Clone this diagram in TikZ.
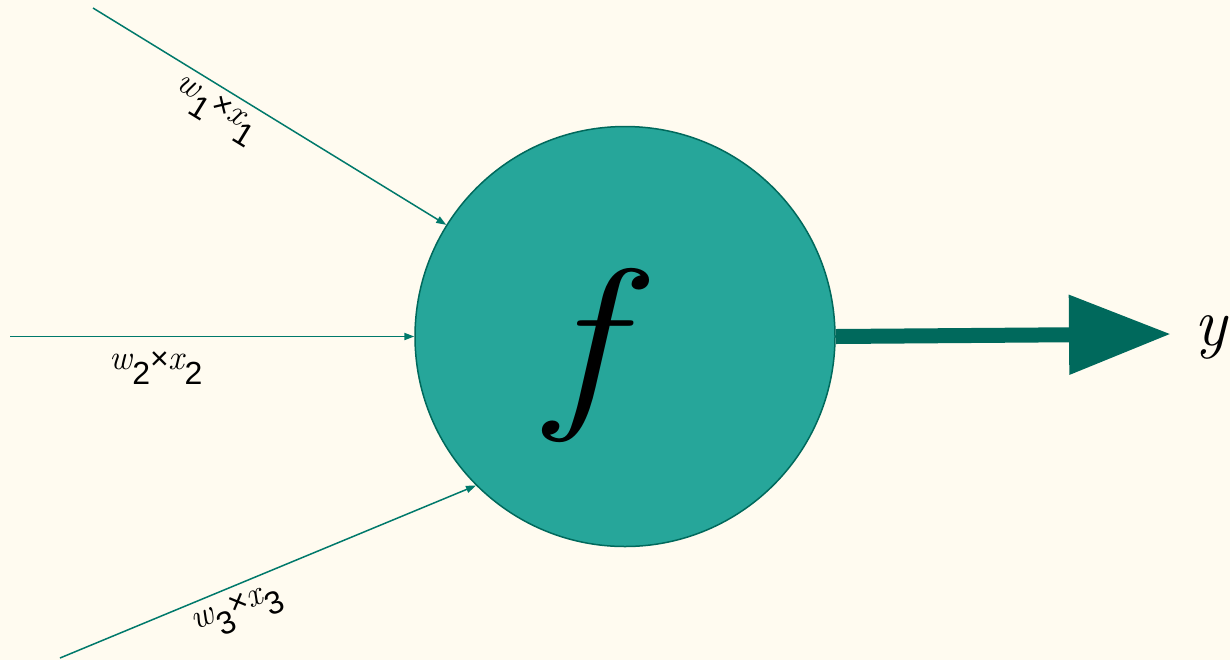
\documentclass[tikz,border=0pt]{standalone}
\usepackage{fontspec}
\newfontfamily\arialfam{Liberation Sans}
\usetikzlibrary{arrows.meta}
\definecolor{bgcol}{HTML}{FFFBF0}
\definecolor{tealfill}{HTML}{26A69A}
\definecolor{tealdark}{HTML}{00695C}
\definecolor{tealline}{HTML}{00796B}
\newcommand\wxlabel[1]{{\fontsize{17.5}{17.5}\selectfont\itshape w}\raisebox{-7.5pt}{\arialfam #1}{\arialfam ×}{\fontsize{17.5}{17.5}\selectfont\itshape x}\raisebox{-7.5pt}{\arialfam #1}}
\tikzset{
  neuron/.style={circle, draw=tealdark, fill=tealfill, line width=0.75pt, minimum size=210pt, inner sep=0pt},
  inline/.style={draw=tealline, line width=0.75pt, -{Triangle[length=5pt,width=3.6pt]}},
  outarrow/.style={draw=tealdark, line width=7.5pt, -{Triangle[length=51pt,width=38pt]}},
  wlab/.style={font=\fontsize{16}{16}\selectfont, inner sep=0pt},
}
\begin{document}
\begin{tikzpicture}[x=0.5pt,y=-0.5pt]
\fill[bgcol] (0,0) rectangle (1230,660);
\useasboundingbox (0,0) rectangle (1230,660);
\node[neuron] (c) at (625,336.5) {};
\node[anchor=base, inner sep=0pt, xscale=1.18, font=\fontsize{96}{96}\selectfont\itshape] (fl) at (582,403) {f};
\coordinate (s1) at (93,8);
\coordinate (s2) at (10,336.5);
\coordinate (s3) at (60,658);
\coordinate (yt) at (1171,334);
\draw[inline] (s1) -- (c.148);
\draw[inline] (s2) -- (c.west);
\draw[inline] (s3) -- (c.225);
\draw[outarrow] (c.east) -- (yt);
\node[wlab, rotate=-31.5] (l1) at (215,111) {\wxlabel{1}};
\node[wlab] (l2) at (156,368) {\wxlabel{2}};
\node[wlab, rotate=22.6] (l3) at (238,612) {\wxlabel{3}};
\node[anchor=base, inner sep=0pt, font=\fontsize{34}{34}\selectfont\itshape] (yl) at (1211,345) {y};
\end{tikzpicture}
\end{document}
